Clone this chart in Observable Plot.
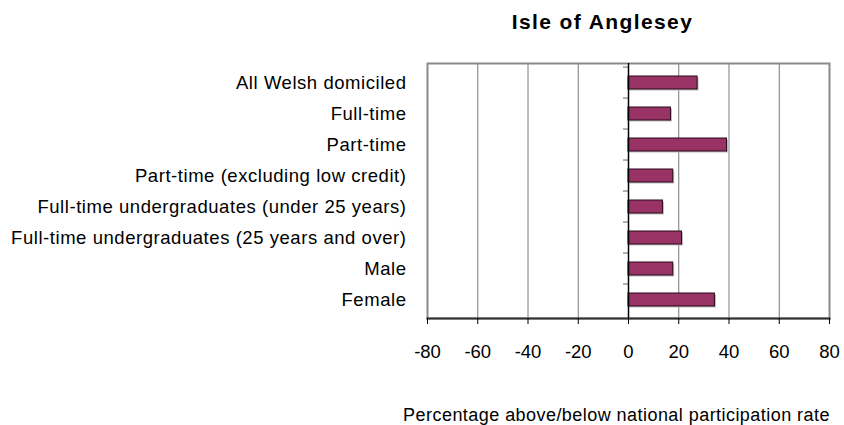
<!DOCTYPE html>
<html>
<head>
<meta charset="utf-8">
<script src="https://cdn.jsdelivr.net/npm/d3@7"></script>
<script src="https://cdn.jsdelivr.net/npm/@observablehq/plot@0.6"></script>
<style>
  html, body { margin: 0; padding: 0; background: #fff; }
  #chart svg { display: block; }
</style>
</head>
<body>
<div id="chart"></div>
<script>
const title = "Isle of Anglesey";
const xLabel = "Percentage above/below national participation rate";
const categories = [
  "All Welsh domiciled",
  "Full-time",
  "Part-time",
  "Part-time (excluding low credit)",
  "Full-time undergraduates (under 25 years)",
  "Full-time undergraduates (25 years and over)",
  "Male",
  "Female"
];
const values = [27.5, 16.9, 39.2, 17.8, 13.7, 21.3, 17.8, 34.4];
const xTicks = [-80, -60, -40, -20, 0, 20, 40, 60, 80];
const gridTicks = [-60, -40, -20, 20, 40, 60];

const data = categories.map((c, i) => ({category: c, value: values[i]}));

const W = 844, H = 425;
const mTop = 63, mBottom = 107, mLeft = 427, mRight = 15;
const step = (H - mTop - mBottom) / categories.length;

const chart = Plot.plot({
  width: W,
  height: H,
  marginTop: mTop,
  marginBottom: mBottom,
  marginLeft: mLeft,
  marginRight: mRight,
  style: {fontFamily: "'Liberation Sans', Arial, sans-serif", background: "#fff", color: "#000"},
  x: {domain: [-80, 80], ticks: xTicks, label: null},
  y: {domain: categories, paddingInner: 0.59, paddingOuter: 0.295, label: null},
  marks: [
    Plot.ruleX(gridTicks, {stroke: "#7a7a7a", strokeWidth: 1}),
    Plot.frame({stroke: "#8a8a8a", strokeWidth: 2}),
    Plot.frame({anchor: "bottom", stroke: "#333", strokeWidth: 2}),
    Plot.ruleY(categories, {x1: 0, x2: -2, dy: -step / 2, stroke: "#999", strokeWidth: 1.5}),
    Plot.barX(data, {x: "value", y: "category", fill: "#bdbdbd", dx: 1.5, dy: 1.5}),
    Plot.barX(data, {x: "value", y: "category", fill: "#993366", stroke: "#2b0a1c", strokeWidth: 1}),
    Plot.ruleX([0], {stroke: "#000", strokeWidth: 1.5}),
    Plot.axisX({ticks: xTicks, tickSize: 6, tickPadding: 20, fontSize: 18.5, stroke: "#000", tickFormat: d => String(d), className: "xax"}),
    Plot.axisY({tickSize: 0, tickPadding: 21, fontSize: 18.5, className: "yax"}),
    Plot.text([title], {frameAnchor: "top", lineAnchor: "middle", dy: -41, dx: -26, fontSize: 21, fontWeight: "bold", fill: "#000", className: "ttl"}),
    Plot.text([xLabel], {frameAnchor: "bottom", lineAnchor: "middle", dy: 97, dx: -12, fontSize: 18, fill: "#000", className: "xlab"})
  ]
});
chart.querySelectorAll("text").forEach(t => {
  const s = t.textContent;
  if (s === xLabel) t.setAttribute("letter-spacing", "0.45px");
  else if (s === title) t.setAttribute("letter-spacing", "1.4px");
  else if (categories.includes(s)) t.setAttribute("letter-spacing", "0.55px");
});
document.getElementById("chart").appendChild(chart);
</script>
</body>
</html>
